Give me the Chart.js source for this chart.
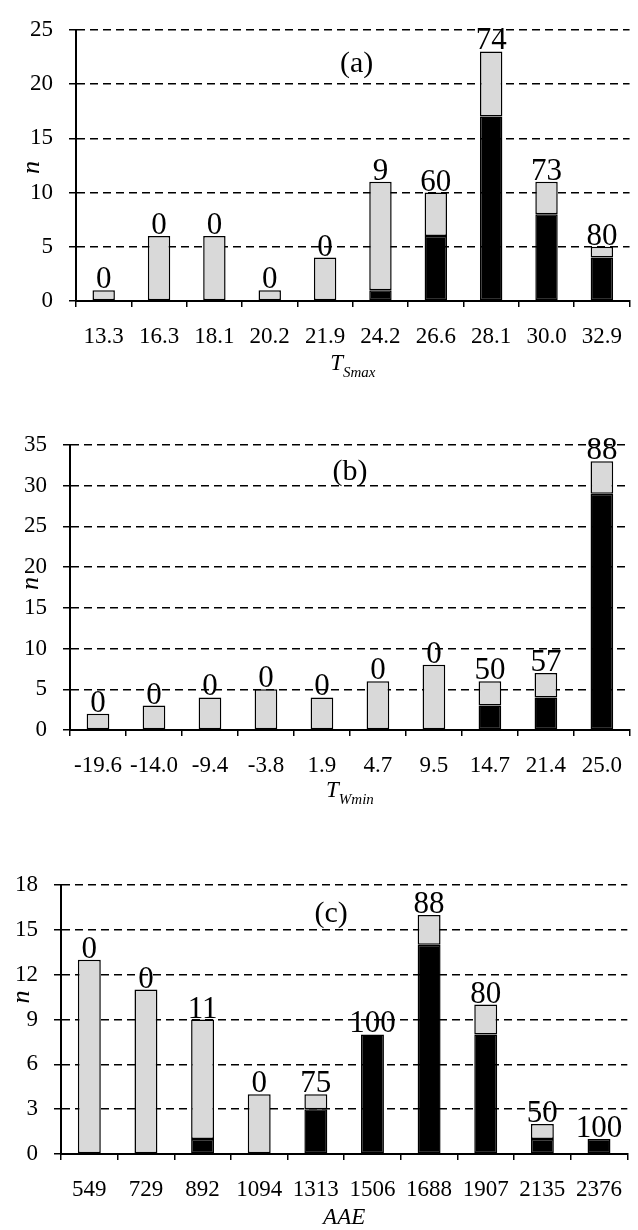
<!DOCTYPE html>
<html>
<head>
<meta charset="utf-8">
<script src="https://cdn.jsdelivr.net/npm/chart.js@4"></script>
<style>
  html, body { margin: 0; padding: 0; background: #fff; }
  body { width: 638px; height: 1230px; position: relative; overflow: hidden; }
  .panel { position: absolute; left: 0; width: 638px; }
  canvas { display: block; }
</style>
</head>
<body>
<div class="panel" style="top:0px"><canvas id="chartA" width="638" height="400"></canvas></div>
<div class="panel" style="top:400px"><canvas id="chartB" width="638" height="430"></canvas></div>
<div class="panel" style="top:830px"><canvas id="chartC" width="638" height="400"></canvas></div>
<script>
'use strict';

// (a) T_Smax
const tsmaxLabels = ['13.3', '16.3', '18.1', '20.2', '21.9', '24.2', '26.6', '28.1', '30.0', '32.9'];
const tsmaxTotal = [1, 6, 6, 1, 4, 11, 10, 23, 11, 5];
const tsmaxBlack = [0, 0, 0, 0, 0, 1, 6, 17, 8, 4];
const tsmaxPct = [0, 0, 0, 0, 0, 9, 60, 74, 73, 80];

// (b) T_Wmin
const twminLabels = ['-19.6', '-14.0', '-9.4', '-3.8', '1.9', '4.7', '9.5', '14.7', '21.4', '25.0'];
const twminTotal = [2, 3, 4, 5, 4, 6, 8, 6, 7, 33];
const twminBlack = [0, 0, 0, 0, 0, 0, 0, 3, 4, 29];
const twminPct = [0, 0, 0, 0, 0, 0, 0, 50, 57, 88];

// (c) AAE
const aaeLabels = ['549', '729', '892', '1094', '1313', '1506', '1688', '1907', '2135', '2376'];
const aaeTotal = [13, 11, 9, 4, 4, 8, 16, 10, 2, 1];
const aaeBlack = [0, 0, 1, 0, 3, 8, 14, 8, 1, 1];
const aaePct = [0, 0, 11, 0, 75, 100, 88, 80, 50, 100];

const FONT = '"Liberation Serif", "Times New Roman", serif';
const GRAY = '#d9d9d9';

// draws the % labels, the panel letter, the n title and the x title
const annotate = {
  id: 'annotate',
  afterDatasetsDraw(chart, args, o) {
    const ctx = chart.ctx;
    const a = chart.chartArea;
    const y = chart.scales.y;
    const top = chart.getDatasetMeta(1);
    ctx.save();
    ctx.fillStyle = '#000';
    ctx.font = '31px ' + FONT;
    ctx.textAlign = 'center';
    ctx.textBaseline = 'alphabetic';
    top.data.forEach((bar, i) => {
      ctx.fillText(String(o.pct[i]), bar.x, bar.y - 2);
    });

    // panel letter
    ctx.font = '30px ' + FONT;
    ctx.textBaseline = 'middle';
    ctx.fillText(o.letter, a.left + o.letterX * (a.right - a.left), y.getPixelForValue(o.letterY));

    // y title
    ctx.save();
    ctx.translate(o.nX, y.getPixelForValue(o.nY));
    ctx.rotate(-Math.PI / 2);
    ctx.font = 'italic 26px ' + FONT;
    ctx.fillText('n', 0, 0);
    ctx.restore();

    // x title with subscript
    ctx.textBaseline = 'alphabetic';
    ctx.textAlign = 'left';
    const mainFont = 'italic 23px ' + FONT;
    const subFont = 'italic 15px ' + FONT;
    ctx.font = mainFont;
    const w1 = ctx.measureText(o.xMain).width;
    ctx.font = subFont;
    const w2 = o.xSub ? ctx.measureText(o.xSub).width : 0;
    const cx = (a.left + a.right) / 2;
    let x0 = cx - (w1 + w2) / 2;
    const base = a.bottom + o.xTitleOffset;
    ctx.font = mainFont;
    ctx.fillText(o.xMain, x0, base);
    if (o.xSub) {
      ctx.font = subFont;
      ctx.fillText(o.xSub, x0 + w1, base + 7);
    }
    ctx.restore();
  }
};

function makePanel(id, p) {
  const gray = p.total.map((t, i) => t - p.black[i]);
  const canvas = document.getElementById(id);
  const h = canvas.height;
  return new Chart(canvas, {
    type: 'bar',
    data: {
      labels: p.labels,
      datasets: [{
        data: p.black,
        backgroundColor: '#000',
        borderColor: '#000',
        borderWidth: 1.5,
        borderSkipped: false
      }, {
        data: gray,
        backgroundColor: GRAY,
        borderColor: '#000',
        borderWidth: 1.5,
        borderSkipped: false
      }]
    },
    options: {
      responsive: false,
      animation: false,
      devicePixelRatio: 1,
      layout: { padding: { top: p.padTop, right: 0, bottom: 0, left: 0 } },
      datasets: { bar: { categoryPercentage: 1, barPercentage: 0.405 } },
      plugins: {
        legend: { display: false },
        tooltip: { enabled: false },
        annotate: {
          pct: p.pct, letter: p.letter, letterX: p.letterX, letterY: p.letterY,
          nX: p.nX, nY: p.nY, xMain: p.xMain, xSub: p.xSub, xTitleOffset: p.xTitleOffset
        }
      },
      scales: {
        x: {
          stacked: true,
          offset: true,
          grid: {
            offset: true,
            drawOnChartArea: false,
            drawTicks: true,
            tickLength: 6,
            color: '#000',
            lineWidth: 1.5
          },
          border: { display: true, color: '#000', width: 2 },
          ticks: {
            autoSkip: false,
            maxRotation: 0,
            minRotation: 0,
            color: '#000',
            padding: 16,
            font: { family: FONT, size: 23 }
          },
          afterFit(scale) { scale.height = h - p.plotBottom; }
        },
        y: {
          stacked: true,
          min: 0,
          max: p.yMax,
          grid: {
            color: '#000',
            lineWidth: 1.5,
            drawTicks: true,
            tickLength: 7
          },
          border: { display: true, color: '#000', width: 2, dash: [8, 5] },
          ticks: {
            stepSize: p.yStep,
            color: '#000',
            padding: 16,
            font: { family: FONT, size: 23 }
          },
          afterFit(scale) { scale.width = p.axisLeft; }
        }
      }
    },
    plugins: [annotate]
  });
}

makePanel('chartA', {
  labels: tsmaxLabels, total: tsmaxTotal, black: tsmaxBlack, pct: tsmaxPct,
  yMax: 25, yStep: 5, padTop: 15, axisLeft: 76, plotBottom: 301,
  letter: '(a)', letterX: 0.507, letterY: 21.8, nX: 32, nY: 12.3,
  xMain: 'T', xSub: 'Smax', xTitleOffset: 68.5
});

makePanel('chartB', {
  labels: twminLabels, total: twminTotal, black: twminBlack, pct: twminPct,
  yMax: 35, yStep: 5, padTop: 45, axisLeft: 70, plotBottom: 330,
  letter: '(b)', letterX: 0.5, letterY: 31.7, nX: 31, nY: 18,
  xMain: 'T', xSub: 'Wmin', xTitleOffset: 67
});

makePanel('chartC', {
  labels: aaeLabels, total: aaeTotal, black: aaeBlack, pct: aaePct,
  yMax: 18, yStep: 3, padTop: 55, axisLeft: 61, plotBottom: 324,
  letter: '(c)', letterX: 0.477, letterY: 16.06, nX: 22, nY: 10.5,
  xMain: 'AAE', xSub: '', xTitleOffset: 70
});
</script>
</body>
</html>
